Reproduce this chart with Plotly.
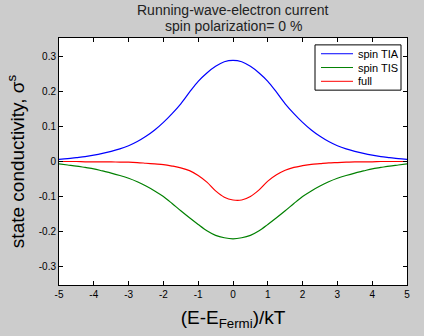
import plotly.graph_objects as go

# energy grid, (E - E_Fermi)/kT
energy = [-5.0, -4.75, -4.5, -4.25, -4.0, -3.75, -3.5, -3.25, -3.0, -2.75, -2.5,
          -2.25, -2.0, -1.75, -1.5, -1.25, -1.0, -0.75, -0.5, -0.25, 0.0,
          0.25, 0.5, 0.75, 1.0, 1.25, 1.5, 1.75, 2.0, 2.25, 2.5,
          2.75, 3.0, 3.25, 3.5, 3.75, 4.0, 4.25, 4.5, 4.75, 5.0]

# state conductivity per spin channel
sigma_tia = [0.006, 0.008, 0.011, 0.014, 0.018, 0.023, 0.029, 0.036, 0.045, 0.057, 0.072,
             0.090, 0.112, 0.137, 0.165, 0.198, 0.229, 0.253, 0.272, 0.285, 0.289,
             0.285, 0.272, 0.253, 0.229, 0.198, 0.165, 0.137, 0.112, 0.090, 0.072,
             0.057, 0.045, 0.036, 0.029, 0.023, 0.018, 0.014, 0.011, 0.008, 0.006]
sigma_tis = [-0.007, -0.010, -0.013, -0.017, -0.021, -0.027, -0.033, -0.040, -0.048, -0.058, -0.070,
             -0.084, -0.100, -0.120, -0.141, -0.161, -0.180, -0.198, -0.211, -0.218, -0.221,
             -0.218, -0.211, -0.198, -0.180, -0.161, -0.141, -0.120, -0.100, -0.084, -0.070,
             -0.058, -0.048, -0.040, -0.033, -0.027, -0.021, -0.017, -0.013, -0.010, -0.007]
sigma_full = [0.000, 0.000, 0.000, -0.001, -0.001, -0.001, -0.001, -0.002, -0.002, -0.003, -0.005,
              -0.007, -0.009, -0.013, -0.018, -0.026, -0.040, -0.059, -0.084, -0.102, -0.110,
              -0.110, -0.100, -0.081, -0.056, -0.038, -0.025, -0.017, -0.012, -0.008, -0.006,
              -0.004, -0.003, -0.002, -0.001, -0.001, -0.001, 0.000, 0.000, 0.000, 0.000]

x_ticks = [-5, -4, -3, -2, -1, 0, 1, 2, 3, 4, 5]
x_tick_text = ["-5", "-4", "-3", "-2", "-1", "0", "1", "2", "3", "4", "5"]
y_ticks = [-0.3, -0.2, -0.1, 0, 0.1, 0.2, 0.3]
y_tick_text = ["-0.3", "-0.2", "-0.1", "0", "0.1", "0.2", "0.3"]

title_lines = ["Running-wave-electron current", "spin polarization= 0 %"]

series = [
    ("spin TIA", sigma_tia, "#0000ff"),
    ("spin TIS", sigma_tis, "#008000"),
    ("full", sigma_full, "#ff0000"),
]

# plot-area geometry in pixels, used for paper-coordinate placement
PLOT_L, PLOT_R, PLOT_T, PLOT_B = 59, 407, 38, 289
PW, PH = PLOT_R - PLOT_L, PLOT_B - PLOT_T


def px_x(px):
    return (px - PLOT_L) / PW


def px_y(py):
    return (PLOT_B - py) / PH


fig = go.Figure()
for name, vals, color in series:
    fig.add_trace(go.Scatter(
        x=energy, y=vals, name=name, mode="lines", showlegend=False,
        line=dict(color=color, width=1.2, shape="spline", smoothing=0.9),
    ))

font_family = "Liberation Sans, Arial, sans-serif"

axis_common = dict(
    showline=True, linecolor="black", linewidth=1, mirror="ticks",
    ticks="inside", ticklen=4, tickcolor="black", tickwidth=1,
    showgrid=False, zeroline=False,
    tickfont=dict(family=font_family, size=10, color="black"),
)

# two-line title above the axes, centred on the plot area
for i, line in enumerate(title_lines):
    fig.add_annotation(
        text=line, xref="paper", yref="paper",
        x=0.5, xanchor="center",
        y=px_y(10 + 16 * i), yanchor="middle",
        showarrow=False,
        font=dict(size=14, family=font_family, color="#222222"),
    )

# compact boxed legend in the upper-right corner
legend_box = dict(x0=px_x(315), x1=px_x(401), y0=px_y(91), y1=px_y(45))
fig.add_shape(type="rect", xref="paper", yref="paper", **legend_box,
              line=dict(color="black", width=1), fillcolor="white", layer="above")
for i, (name, _, color) in enumerate(series):
    row_y = px_y(54 + 14 * i)
    fig.add_shape(type="line", xref="paper", yref="paper",
                  x0=px_x(321), x1=px_x(353), y0=row_y, y1=row_y,
                  line=dict(color=color, width=1), layer="above")
    fig.add_annotation(text=name, xref="paper", yref="paper",
                       x=px_x(356), y=row_y, xanchor="left", yanchor="middle",
                       showarrow=False,
                       font=dict(size=11, family=font_family, color="black"))

fig.update_layout(
    width=424, height=336,
    paper_bgcolor="#cccccc", plot_bgcolor="white",
    margin=dict(l=PLOT_L, r=424 - PLOT_R, t=PLOT_T, b=336 - PLOT_B),
    font=dict(family=font_family, color="black"),
    xaxis=dict(
        range=[-5, 5], tickvals=x_ticks, ticktext=x_tick_text,
        title=dict(text="(E-E<sub>Fermi</sub>)/kT", standoff=11,
                   font=dict(size=19, family=font_family)),
        **axis_common,
    ),
    yaxis=dict(
        range=[-0.353, 0.353], tickvals=y_ticks, ticktext=y_tick_text,
        title=dict(text="state conductivity, σ<sup>s</sup>", standoff=9,
                   font=dict(size=19, family=font_family)),
        **axis_common,
    ),
    showlegend=False,
)

fig.write_html("out.html")
